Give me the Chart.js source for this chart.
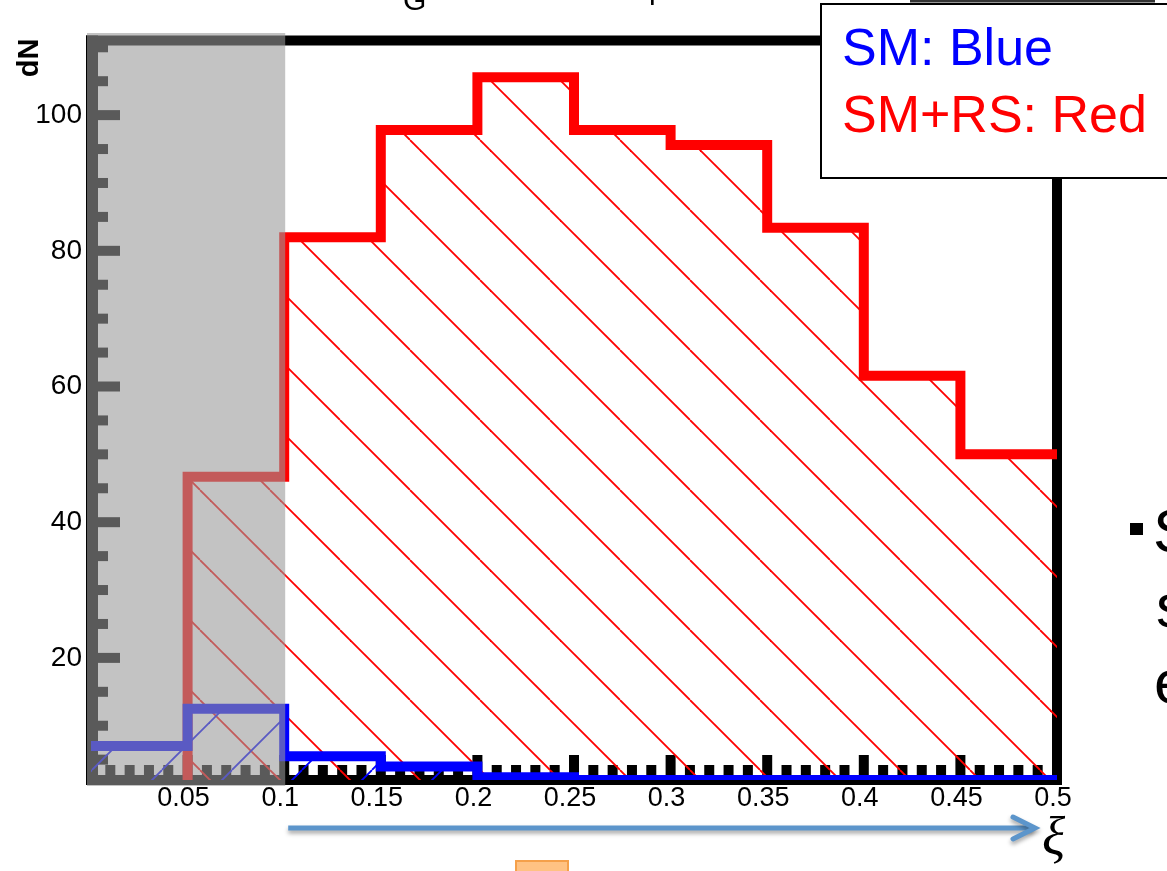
<!DOCTYPE html>
<html>
<head>
<meta charset="utf-8">
<script src="https://cdn.jsdelivr.net/npm/chart.js@4.4.1/dist/chart.umd.min.js"></script>
<style>
  html, body { margin: 0; padding: 0; background: #ffffff; }
  canvas { display: block; }
</style>
</head>
<body>
<canvas id="c" width="1167" height="871"></canvas>
<script>
// Histogram bins in xi (width 0.05) and event counts per bin
const binEdges = [0, 0.05, 0.1, 0.15, 0.2, 0.25, 0.3, 0.35, 0.4, 0.45, 0.5];
const smRsCounts = [0, 46.7, 82, 97.8, 105.6, 97.8, 95.6, 83.4, 61.6, 50];
const smCounts = [7, 12.5, 5.5, 4, 2.4, 2, 2, 2, 2, 2];

// Axis ticks
const xTickValues = [0.05, 0.1, 0.15, 0.2, 0.25, 0.3, 0.35, 0.4, 0.45, 0.5];
const xTickLabels = ['0.05', '0.1', '0.15', '0.2', '0.25', '0.3', '0.35', '0.4', '0.45', '0.5'];
const yTickValues = [20, 40, 60, 80, 100];
const yTickLabels = ['20', '40', '60', '80', '100'];

// Legend text
const legendLines = [
  { text: 'SM: Blue', color: '#0000ff' },
  { text: 'SM+RS: Red', color: '#ff0000' }
];

const SANS = '"Liberation Sans", Arial, Helvetica, sans-serif';

// Turn bin contents into step points (last bin repeated at the right edge)
function stepPoints(counts) {
  return binEdges.map((x, i) => ({ x: x, y: counts[Math.min(i, counts.length - 1)] }));
}

// Diagonal hatch tile; "\" lines satisfy x - y = phase, "/" lines x + y = phase (mod size)
function hatch(color, dir, phase) {
  const size = 70;
  const c = document.createElement('canvas');
  c.width = size; c.height = size;
  const g = c.getContext('2d');
  g.strokeStyle = color;
  g.lineWidth = 1.8;
  for (let k = -2; k <= 2; k++) {
    const x0 = phase + k * size;
    g.beginPath();
    if (dir === '\\') { g.moveTo(x0, 0); g.lineTo(x0 + size, size); }
    else { g.moveTo(x0, 0); g.lineTo(x0 - size, size); }
    g.stroke();
  }
  return g.createPattern(c, 'repeat');
}

// ROOT-style frame: thick bands with inward ticks
const framePlugin = {
  id: 'frame',
  beforeDatasetsDraw(chart) {
    const { ctx, chartArea: a, scales: { x, y } } = chart;
    ctx.save();
    ctx.fillStyle = '#000000';
    ctx.fillRect(a.left - 5, a.top - 5, a.right - a.left + 10, 10);      // top
    ctx.fillRect(a.right - 5, a.top - 5, 10, a.bottom - a.top + 10);     // right
    ctx.fillRect(a.left - 5, a.bottom - 5, a.right - a.left + 10, 10);   // bottom
    ctx.fillRect(a.left - 5, a.top - 5, 12, a.bottom - a.top + 10);      // left
    // x ticks every 0.01, longer every 0.05
    for (let k = 1; k < 50; k++) {
      const px = x.getPixelForValue(k / 100);
      const len = (k % 5 === 0) ? 20 : 10;
      ctx.fillRect(px - 5, a.bottom - 5 - len, 10, len);
    }
    // y ticks every 5, longer every 20
    for (let k = 1; k * 5 < y.max; k++) {
      const v = k * 5;
      const py = y.getPixelForValue(v);
      const len = (v % 20 === 0) ? 22 : 10;
      ctx.fillRect(a.left + 7, py - 5, len, 10);
    }
    ctx.restore();
  }
};

// Shaded region, legend box and surrounding slide text
const decorPlugin = {
  id: 'decor',
  afterDraw(chart) {
    const { ctx, chartArea: a, scales: { x } } = chart;
    ctx.save();

    // grey band over the low-xi region
    const x01 = x.getPixelForValue(0.1);
    ctx.fillStyle = 'rgba(153,153,153,0.59)';
    ctx.fillRect(a.left - 4, a.top - 7.5, x01 + 1 - (a.left - 4), a.bottom + 6 - (a.top - 7.5));

    // partial title above the frame
    ctx.fillStyle = '#000000';
    ctx.font = '30px ' + SANS;
    ctx.textBaseline = 'alphabetic';
    ctx.textAlign = 'left';
    ctx.fillText('G', 403, 10);
    ctx.fillText('p', 649, -1);

    // y axis title
    ctx.save();
    ctx.translate(38, 58);
    ctx.rotate(-Math.PI / 2);
    ctx.font = 'bold 29px ' + SANS;
    ctx.textAlign = 'center';
    ctx.fillText('dN', 0, 0);
    ctx.restore();

    // edge of a box above the legend
    ctx.fillStyle = '#333333';
    ctx.fillRect(910, 0, 245, 2.5);

    // legend box
    ctx.fillStyle = '#ffffff';
    ctx.fillRect(821, 4, 360, 174);
    ctx.strokeStyle = '#000000';
    ctx.lineWidth = 2;
    ctx.strokeRect(821, 4, 360, 174);
    ctx.font = '52px ' + SANS;
    ctx.textAlign = 'left';
    legendLines.forEach((l, i) => {
      ctx.fillStyle = l.color;
      ctx.fillText(l.text, 842, 65 + i * 67);
    });

    // xi arrow under the axis
    const xs = x01 + 4;
    const xe = x.getPixelForValue(0.5) - 22;
    const ya = 828;
    ctx.save();
    ctx.shadowColor = 'rgba(0,0,0,0.35)';
    ctx.shadowBlur = 4;
    ctx.shadowOffsetY = 3;
    ctx.strokeStyle = '#5c95cb';
    ctx.lineWidth = 5;
    ctx.lineCap = 'butt';
    ctx.beginPath();
    ctx.moveTo(xs, ya);
    ctx.lineTo(xe - 2, ya);
    ctx.stroke();
    ctx.lineCap = 'round';
    ctx.lineJoin = 'miter';
    ctx.beginPath();
    ctx.moveTo(xe - 22, ya - 11);
    ctx.lineTo(xe, ya);
    ctx.lineTo(xe - 22, ya + 11);
    ctx.stroke();
    ctx.restore();

    ctx.fillStyle = '#000000';
    ctx.font = 'italic 54px "Liberation Serif", "DejaVu Serif", serif';
    ctx.fillText('ξ', 1042, 855);

    // bullet text at the right edge
    ctx.fillRect(1130, 523, 13, 12);
    ctx.font = '62px ' + SANS;
    ctx.fillText('S', 1153, 552);
    ctx.fillText('s', 1156, 627);
    ctx.fillText('e', 1154, 703);

    // orange shape at the bottom
    ctx.fillStyle = '#ffc283';
    ctx.fillRect(516, 861, 52, 20);
    ctx.strokeStyle = '#f5a04a';
    ctx.lineWidth = 2;
    ctx.strokeRect(516, 861, 52, 20);

    ctx.restore();
  }
};

const ctx = document.getElementById('c').getContext('2d');

new Chart(ctx, {
  type: 'line',
  data: {
    datasets: [
      {
        label: 'SM',
        data: stepPoints(smCounts),
        stepped: 'before',
        borderColor: '#0000ff',
        borderWidth: 10,
        borderJoinStyle: 'miter',
        backgroundColor: hatch('#0000ff', '/', 22),
        fill: 'origin',
        pointRadius: 0
      },
      {
        label: 'SM+RS',
        data: stepPoints(smRsCounts),
        stepped: 'before',
        borderColor: '#ff0000',
        borderWidth: 10,
        borderJoinStyle: 'miter',
        backgroundColor: hatch('#ff0000', '\\', 60),
        fill: 'origin',
        pointRadius: 0
      }
    ]
  },
  options: {
    responsive: false,
    animation: false,
    events: [],
    layout: { padding: { top: 40.5, right: 110, left: 0, bottom: 0 } },
    plugins: {
      legend: { display: false },
      tooltip: { enabled: false },
      title: { display: false }
    },
    scales: {
      x: {
        type: 'linear',
        min: 0,
        max: 0.5,
        afterBuildTicks: (s) => { s.ticks = xTickValues.map(v => ({ value: v })); },
        afterFit: (s) => { s.height = 91; },
        grid: { display: false, drawTicks: false },
        border: { display: false },
        ticks: {
          autoSkip: false,
          maxRotation: 0,
          padding: 2,
          labelOffset: -4,
          color: '#000000',
          font: { family: SANS, size: 27 },
          callback: (v, i) => xTickLabels[i]
        }
      },
      y: {
        type: 'linear',
        min: 2,
        max: 111,
        afterBuildTicks: (s) => { s.ticks = yTickValues.map(v => ({ value: v })); },
        afterFit: (s) => { s.width = 91; },
        grid: { display: false, drawTicks: false },
        border: { display: false },
        ticks: {
          padding: 9,
          color: '#000000',
          font: { family: SANS, size: 28 },
          callback: (v, i) => yTickLabels[i]
        }
      }
    }
  },
  plugins: [framePlugin, decorPlugin]
});
</script>
</body>
</html>
